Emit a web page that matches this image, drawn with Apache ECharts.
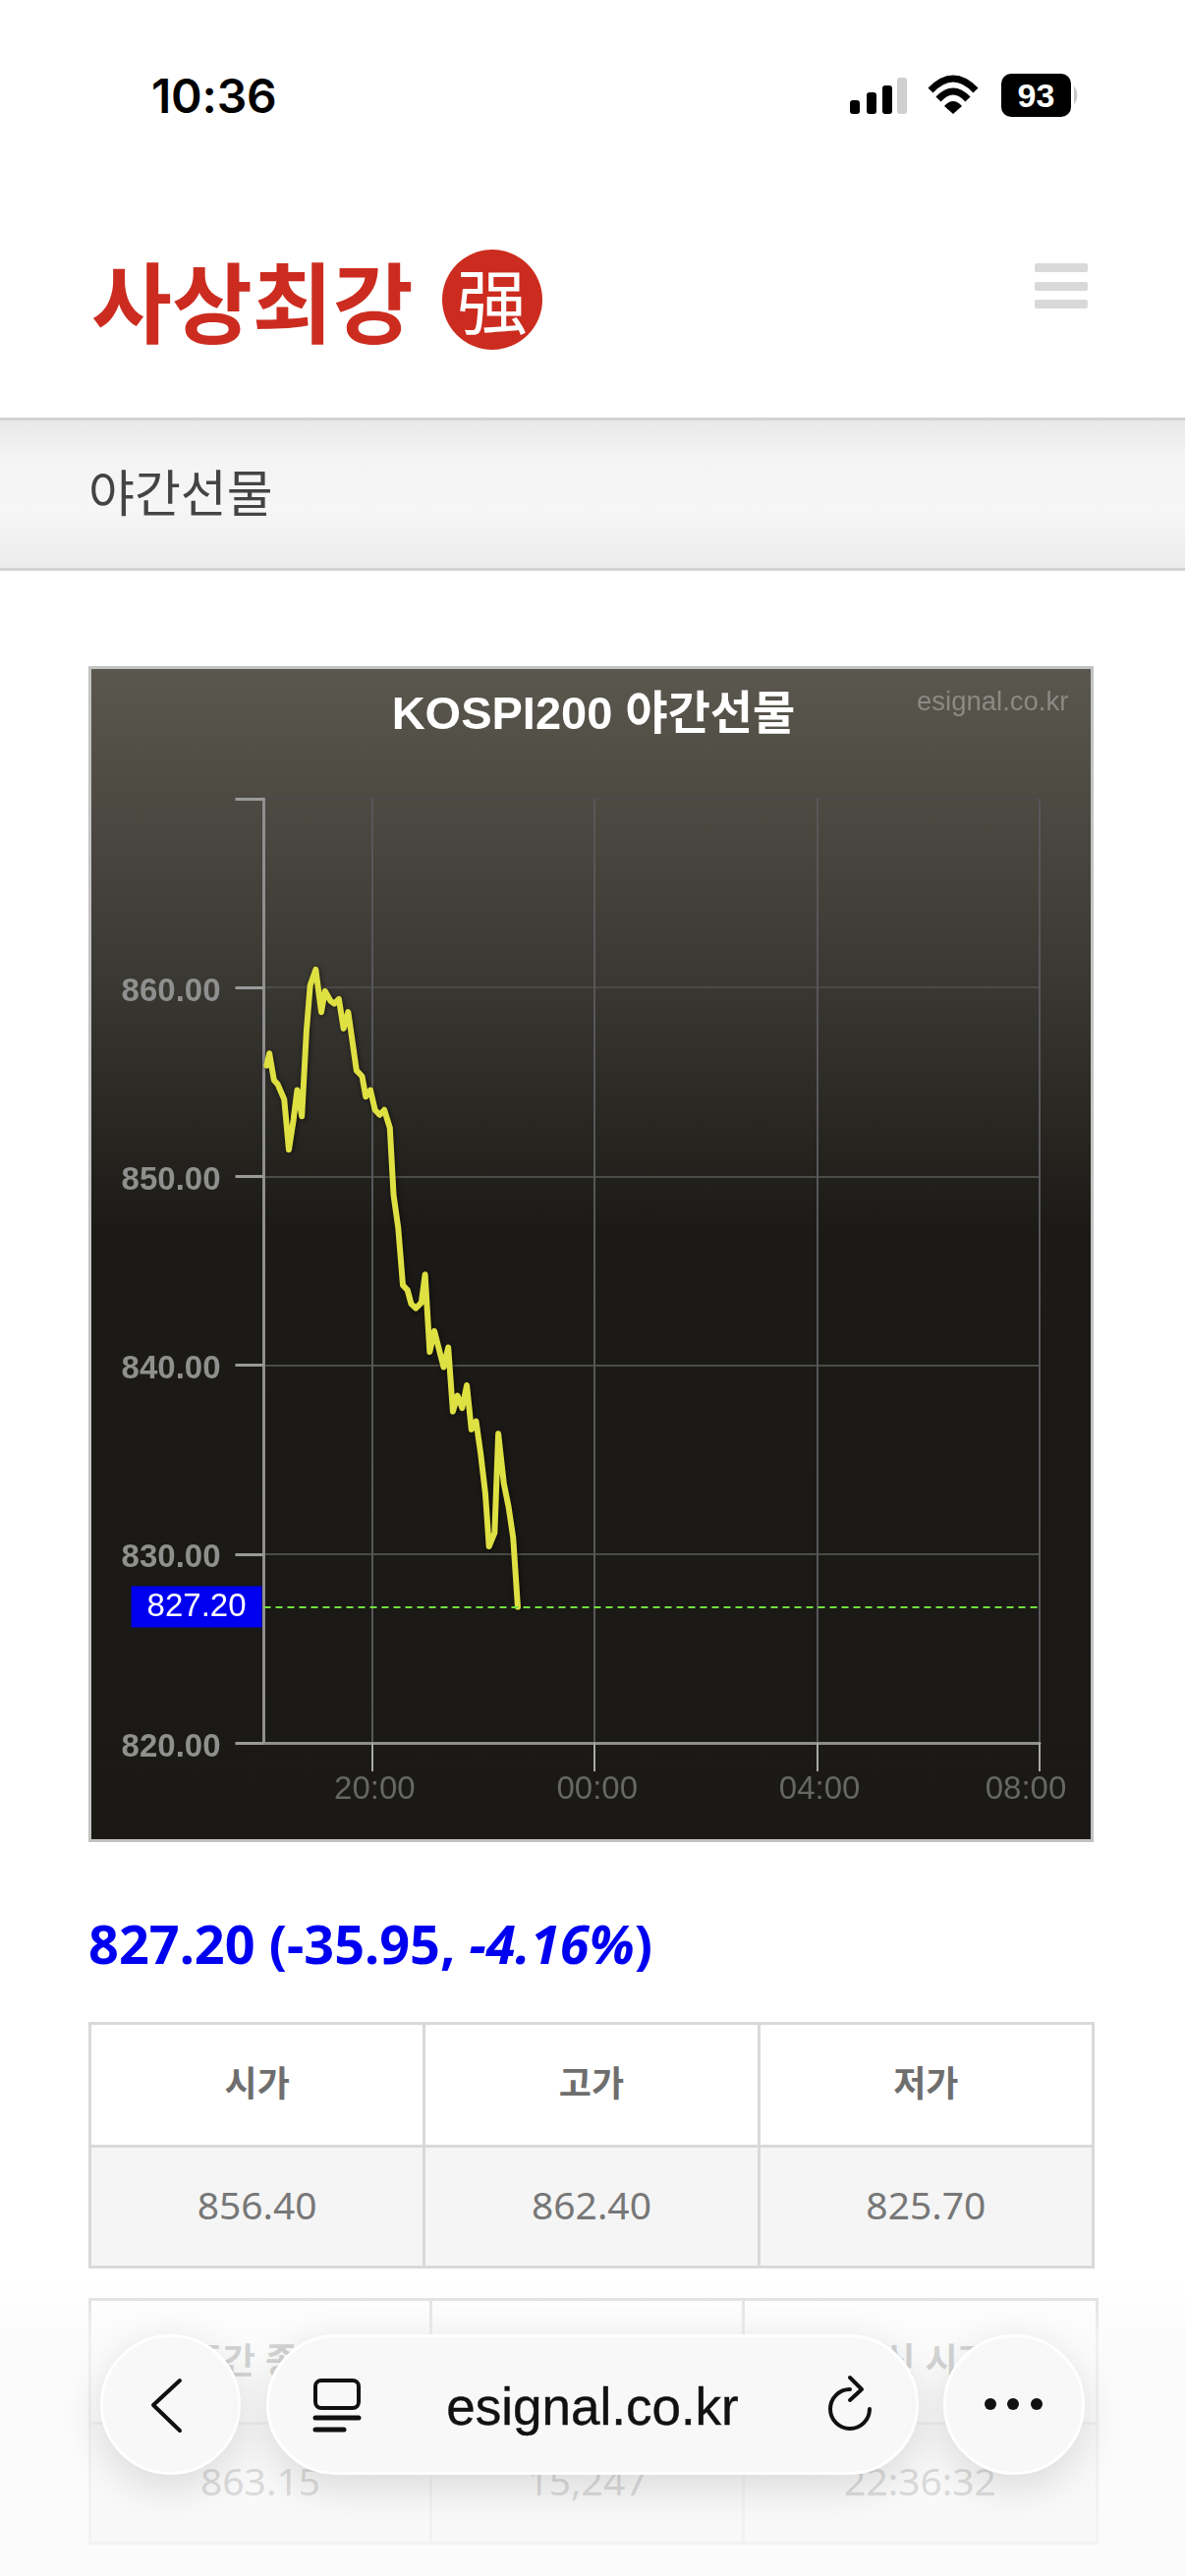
<!DOCTYPE html>
<html lang="ko">
<head>
<meta charset="utf-8">
<title>KOSPI200 야간선물</title>
<script src="https://cdn.jsdelivr.net/npm/echarts@6/dist/echarts.min.js"></script>
<style>
  html,body{margin:0;padding:0;background:#fff;width:1206px;height:2622px;overflow:hidden;
    font-family:"Liberation Sans","Noto Sans CJK KR",sans-serif}
  .abs{position:absolute}
  #band{left:0;top:425px;width:1206px;height:156px;box-sizing:border-box;
    border-top:3px solid #d2d2d2;border-bottom:3px solid #d2d2d2;
    background:linear-gradient(#e9e9e9 0,#f4f4f4 40px,#f6f6f6 60%,#ebebeb 100%)}
  #panel{left:90px;top:678px;width:1023px;height:1197px;box-sizing:border-box;border:3px solid #c2c2c2}
  #chart{width:1017px;height:1191px}
  table{position:absolute;border-collapse:collapse;table-layout:fixed;text-align:center;color:#777}
  td,th{border:3px solid #d9d9d9;padding:0}
  th{font:bold 36px "Noto Sans CJK KR";color:#6e6e6e;padding-bottom:8px}
  td{font:39px "Noto Sans","Noto Sans CJK KR";background:#f5f5f5;padding-bottom:6px}
  #fog{left:0;top:2320px;width:1206px;height:302px;
    background:linear-gradient(rgba(250,250,250,.1) 0,rgba(250,250,250,.72) 60px,rgba(250,250,250,.78) 100%)}
  .pill{box-sizing:border-box;height:143px;top:2376px;border:3px solid #fff;border-radius:72px;
    background:#f8f8f8;box-shadow:0 12px 44px rgba(0,0,0,.13)}
</style>
</head>
<body>
<div class="abs" style="left:154px;top:69px;font:600 48px/58px 'Inter';color:#000;letter-spacing:-.2px">10:36</div>
<svg class="abs" style="left:0;top:0" width="1206" height="130">
  <rect x="865" y="102" width="10" height="14" rx="3"/>
  <rect x="882" y="94" width="10" height="22" rx="3"/>
  <rect x="898" y="87" width="10" height="29" rx="3"/>
  <rect x="913" y="79" width="10" height="37" rx="3" fill="#cfcfcf"/>
  <path d="M947 92 Q970 68 993 92" fill="none" stroke="#000" stroke-width="7"/>
  <path d="M955 101 Q970 85 985 101" fill="none" stroke="#000" stroke-width="7"/>
  <path d="M961 108 Q970 98 979 108 L970 116 Z"/>
  <rect x="1019" y="75" width="71" height="44" rx="10"/>
  <path d="M1093 87 Q1100 97 1093 107 Z" fill="#c9c9c9"/>
</svg>
<div class="abs" style="left:1019px;top:75px;width:71px;text-align:center;font:bold 34px/44px 'Liberation Sans';color:#fff">93</div>

<div class="abs" style="left:93px;top:252px;font:bold 89px/104px 'Noto Sans CJK KR';color:#cc2c1f;white-space:nowrap">사상최강</div>
<div class="abs" style="left:450px;top:254px;width:102px;height:102px;border-radius:50%;background:#cc2c1f;color:#fff;text-align:center;font:400 72px/98px 'Noto Sans CJK SC'">强</div>
<div class="abs" style="left:1053px;top:268px;width:54px;height:9px;background:#d9d9d9;border-radius:2px"></div>
<div class="abs" style="left:1053px;top:287px;width:54px;height:9px;background:#d9d9d9;border-radius:2px"></div>
<div class="abs" style="left:1053px;top:305px;width:54px;height:9px;background:#d9d9d9;border-radius:2px"></div>

<div id="band" class="abs"></div>
<div class="abs" style="left:90px;top:466px;font:51px/66px 'Noto Sans CJK KR';color:#444;white-space:nowrap">야간선물</div>

<div id="panel" class="abs"><div id="chart"></div></div>

<div class="abs" style="left:90px;top:1942px;font:bold 54px/72px 'Noto Sans','Noto Sans CJK KR';color:#0000f0;white-space:nowrap">827.20 (-35.95, <i>-4.16%</i>)</div>

<table style="left:90px;top:2058px;width:1024px;height:251px">
  <tr style="height:125px"><th>시가</th><th>고가</th><th>저가</th></tr>
  <tr><td>856.40</td><td>862.40</td><td>825.70</td></tr>
</table>
<table style="left:90px;top:2339px;width:1025px;height:251px">
  <colgroup><col style="width:347px"><col style="width:318px"><col style="width:360px"></colgroup>
  <tr style="height:126px"><th>주간 종가</th><th>거래량</th><th>갱신 시간</th></tr>
  <tr><td>863.15</td><td>15,247</td><td>22:36:32</td></tr>
</table>
<div id="fog" class="abs"></div>

<div class="abs pill" style="left:102px;width:143px"></div>
<div class="abs pill" style="left:271px;width:664px"></div>
<div class="abs pill" style="left:960px;width:144px"></div>
<div class="abs" style="left:271px;width:664px;top:2420px;text-align:center;font:53px/60px 'Liberation Sans';color:#111;box-sizing:border-box;-webkit-text-stroke:.4px #111">esignal.co.kr</div>
<svg class="abs" style="left:0;top:2376px" width="1206" height="143" fill="none" stroke="#111" stroke-width="4" stroke-linecap="round" stroke-linejoin="round">
  <path d="M183 47 L156 72 L183 98"/>
  <rect x="321" y="47" width="44" height="28" rx="6"/>
  <path d="M321 85 H365 M321 97 H350" stroke-width="5"/>
  <path d="M865 56 A20 20 0 1 0 885 76"/>
  <path d="M865 44 L877 56 L865 67"/>
  <circle cx="1008" cy="71" r="6" fill="#111" stroke="none"/>
  <circle cx="1031" cy="71" r="6" fill="#111" stroke="none"/>
  <circle cx="1055" cy="71" r="6" fill="#111" stroke="none"/>
</svg>

<script>
// Night-session quotes: clock time of each reading and the index level at that time.
const times = [
  '18:06','18:09','18:14','18:18','18:25','18:30','18:35','18:39','18:44','18:49',
  '18:53','18:59','19:05','19:09','19:15','19:19','19:24','19:29','19:34','19:38',
  '19:43','19:49','19:53','19:58','20:03','20:08','20:13','20:19','20:23','20:28',
  '20:33','20:38','20:42','20:47','20:53','20:57','21:02','21:07','21:12','21:17',
  '21:22','21:27','21:32','21:37','21:42','21:47','21:52','21:57','22:02','22:06',
  '22:12','22:16','22:22','22:27','22:32','22:37'
];
const prices = [
  855.87,856.51,855.09,854.88,854.08,851.41,853.00,854.57,853.18,857.69,
  860.12,860.95,858.70,859.81,859.29,859.15,859.39,857.83,858.70,857.34,
  855.61,855.30,854.22,854.57,853.52,853.26,853.52,852.57,849.01,847.27,
  844.24,843.98,843.25,843.02,843.32,844.81,840.71,841.81,840.85,839.90,
  840.94,837.55,838.39,837.73,838.94,836.60,837.03,835.30,833.21,830.40,
  831.13,836.37,833.73,832.52,830.87,827.20
];
const timeTicks = ['20:00','00:00','04:00','08:00'];
const priceMin = 820, priceMax = 870, priceStep = 10;
const sessionStart = '18:03', sessionEnd = '08:00';

// Minutes elapsed since 18:00 on the session's opening evening.
function toMinutes(hhmm) {
  const [h, m] = hhmm.split(':').map(Number);
  return ((h + 24 - 18) % 24) * 60 + m;
}

const latest = prices[prices.length - 1];
const font = '"Liberation Sans","Noto Sans CJK KR",sans-serif';
const tickMinutes = timeTicks.map(toMinutes);

const chart = echarts.init(document.getElementById('chart'), null, {renderer: 'canvas'});
chart.setOption({
  animation: false,
  backgroundColor: {
    type: 'linear', x: 0, y: 0, x2: 0, y2: 1,
    colorStops: [
      {offset: 0, color: '#5a574e'},
      {offset: 0.25, color: '#3c3a34'},
      {offset: 0.48, color: '#1b1a16'},
      {offset: 1, color: '#1a1915'}
    ]
  },
  title: [
    {text: 'KOSPI200 야간선물', left: 506, top: 20, textAlign: 'center',
     textStyle: {color: '#fff', fontSize: 47, fontWeight: 'bold', fontFamily: font}},
    {text: 'esignal.co.kr', left: 835, top: 16,
     textStyle: {color: '#8b8a84', fontSize: 27.5, fontWeight: 'normal', fontFamily: font}}
  ],
  grid: {left: 175.5, top: 132, width: 789.5, height: 961, containLabel: false},
  xAxis: {
    type: 'value',
    min: toMinutes(sessionStart),
    max: toMinutes(sessionEnd),
    axisLine: {lineStyle: {color: '#8f8f8f', width: 3}},
    axisTick: {customValues: tickMinutes, length: 29, lineStyle: {color: '#a8a8a8', width: 2}},
    splitLine: {show: true, lineStyle: {color: '#57575a', width: 2}},
    axisLabel: {
      customValues: tickMinutes,
      margin: 31,
      color: '#666',
      fontSize: 33,
      fontFamily: font,
      hideOverlap: false,
      showMaxLabel: true,
      formatter: (v) => {
        const label = timeTicks[tickMinutes.indexOf(v)];
        return label === '08:00' ? '{end|' + label + '}' : '{mid|' + label + '}';
      },
      rich: {
        mid: {color: '#666', fontSize: 33, fontFamily: font, padding: [0, 0, 0, 5]},
        end: {color: '#666', fontSize: 33, fontFamily: font, padding: [0, 28, 0, 0]}
      }
    }
  },
  yAxis: {
    type: 'value',
    min: priceMin,
    max: priceMax,
    interval: priceStep,
    axisLine: {show: true, onZero: false, lineStyle: {color: '#8f8f8f', width: 3}},
    axisTick: {show: true, length: 29, lineStyle: {color: '#9a9a9a', width: 3}},
    splitLine: {show: true, lineStyle: {color: '#4b4b48', width: 2}},
    axisLabel: {
      margin: 44,
      formatter: (v) => (v === priceMax ? '' : '{price|' + v.toFixed(2) + '}'),
      rich: {
        price: {color: '#8f8f8f', fontSize: 33, fontWeight: 'bold', fontFamily: font, padding: [9, 0, 0, 0]}
      }
    }
  },
  series: [{
    type: 'line',
    data: times.map((t, i) => [toMinutes(t), prices[i]]),
    showSymbol: false,
    smooth: false,
    lineStyle: {
      color: '#dfe042', width: 6, cap: 'round', join: 'round',
      shadowColor: 'rgba(0,0,0,.55)', shadowBlur: 5, shadowOffsetX: 1, shadowOffsetY: 1
    },
    markLine: {
      silent: true,
      symbol: 'none',
      animation: false,
      data: [{yAxis: latest}],
      lineStyle: {color: '#72e03e', width: 2, type: [7, 5]},
      label: {
        show: true,
        position: 'start',
        distance: 2,
        formatter: () => latest.toFixed(2),
        color: '#fff',
        fontSize: 33,
        fontFamily: font,
        backgroundColor: '#0000f0',
        padding: [6, 16, 3, 16],
        lineHeight: 33
      }
    }
  }]
});
</script>
</body>
</html>
